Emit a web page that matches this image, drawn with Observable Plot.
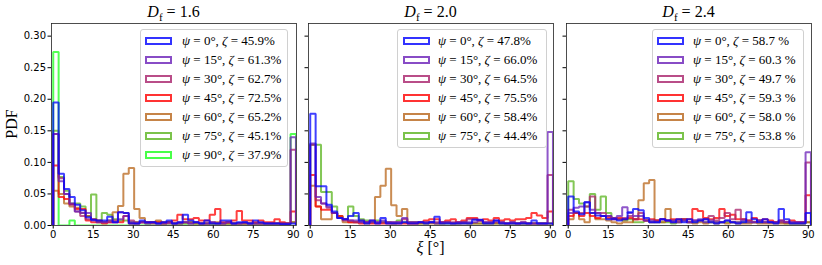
<!DOCTYPE html>
<html><head><meta charset="utf-8">
<script src="https://cdn.jsdelivr.net/npm/d3@7"></script>
<script src="https://cdn.jsdelivr.net/npm/@observablehq/plot@0.6"></script>
<style>
body{margin:0;background:#fff}
#wrap{position:relative;width:822px;height:265px;overflow:hidden;background:#fff}
#wrap svg{position:absolute;top:0}
.t{position:absolute;font-family:"Liberation Serif",serif;color:#000;white-space:nowrap;line-height:1}
.leg{position:absolute;border:1px solid #d0d0d0;border-radius:3px;background:rgba(255,255,255,0.8);box-sizing:border-box}
.ent{position:absolute;height:12px;font-family:"Liberation Serif",serif;font-size:13px;line-height:12px;white-space:nowrap}
.sw{position:absolute;width:27px;height:8px;box-sizing:border-box;border:2px solid;opacity:0.8;top:2px}
.lab{position:absolute;top:0}
</style></head>
<body><div id="wrap"></div>
<script>
const psiValues = [0, 15, 30, 45, 60, 75, 90];
const seriesColors = ["#0000ff", "#6a1fb8", "#a8206a", "#ff0000", "#b8651a", "#5ab41e", "#1aff1a"];
const dfTitles = ["1.6", "2.0", "2.4"];
const zetaDf16 = ["45.9%", "61.3%", "62.7%", "72.5%", "65.2%", "45.1%", "37.9%"];
const zetaDf20 = ["47.8%", "66.0%", "64.5%", "75.5%", "58.4%", "44.4%"];
const zetaDf24 = ["58.7 %", "60.3 %", "49.7 %", "59.3 %", "58.0 %", "53.8 %"];
const xTicks = [0, 15, 30, 45, 60, 75, 90];
const yTicks = [0, 0.05, 0.10, 0.15, 0.20, 0.25, 0.30];
const binCount = 45, binMax = 91;

// PDF values per bin (45 bins over 0..91 deg)
const df16 = [
 [0.195,0.082,0.058,0.045,0.033,0.024,0.013,0.009,0.008,0.008,0.014,0.005,0.021,0.02,0.003,0.003,0.008,0.005,0.005,0.003,0.005,0.008,0.003,0.005,0.017,0.008,0.005,0.003,0.008,0.003,0.003,0.008,0.008,0.003,0.005,0.005,0.003,0.008,0.005,0.003,0.003,0.003,0.002,0.002,0.003],
 [0.145,0.07,0.05,0.035,0.022,0.02,0.02,0.008,0.005,0.005,0.008,0.005,0.01,0.015,0.005,0.003,0.005,0.003,0.005,0.003,0.003,0.005,0.003,0.003,0.005,0.003,0.005,0.003,0.003,0.005,0.003,0.003,0.005,0.003,0.003,0.005,0.003,0.003,0.003,0.003,0.003,0.003,0.003,0.003,0.14],
 [0.145,0.075,0.05,0.033,0.022,0.015,0.01,0.01,0.008,0.005,0.005,0.008,0.021,0.02,0.008,0.005,0.005,0.005,0.003,0.003,0.005,0.003,0.003,0.005,0.005,0.003,0.005,0.003,0.003,0.005,0.003,0.003,0.005,0.003,0.003,0.003,0.003,0.003,0.003,0.003,0.003,0.003,0.003,0.003,0.12],
 [0.095,0.045,0.042,0.034,0.026,0.026,0.008,0.005,0.005,0.003,0.005,0.005,0.005,0.015,0.003,0.003,0.005,0.005,0.005,0.005,0.003,0.005,0.008,0.017,0.01,0.01,0.012,0.008,0.008,0.017,0.026,0.005,0.005,0.008,0.023,0.008,0.008,0.005,0.008,0.005,0.005,0.01,0.005,0.003,0.022],
 [0.055,0.05,0.035,0.03,0.028,0.02,0.015,0.01,0.008,0.005,0.008,0.021,0.031,0.082,0.091,0.026,0.012,0.005,0.005,0.008,0.005,0.005,0.003,0.003,0.005,0.005,0.003,0.003,0.003,0.003,0.005,0.003,0.003,0.003,0.003,0.003,0.003,0.003,0.003,0.003,0.003,0.003,0.003,0.003,0.005],
 [0.15,0.077,0.055,0.035,0.035,0.03,0.015,0.049,0.005,0.02,0.017,0.01,0.008,0.008,0.005,0.005,0.005,0.003,0.005,0.005,0.003,0.005,0.003,0.003,0.003,0.005,0.003,0.003,0.003,0.003,0.003,0.003,0.003,0.003,0.003,0.003,0.003,0.003,0.003,0.003,0.003,0.003,0.003,0.003,0.005],
 [0.275,0,0,0.008,0,0,0,0,0,0,0,0,0,0,0,0,0,0,0,0,0,0,0,0,0,0,0,0,0,0,0,0,0,0,0,0,0,0,0,0,0,0,0,0,0.145]
];
const df20 = [
 [0.177,0.062,0.062,0.033,0.022,0.012,0.01,0.015,0.02,0.008,0.003,0.008,0.003,0.012,0.003,0.003,0.003,0.005,0.003,0.003,0.005,0.003,0.005,0.014,0.003,0.003,0.003,0.003,0.003,0.003,0.009,0.009,0.003,0.003,0.008,0.003,0.003,0.003,0.003,0.003,0.003,0.008,0.003,0.003,0.003],
 [0.13,0.045,0.035,0.03,0.02,0.012,0.01,0.008,0.008,0.005,0.005,0.005,0.005,0.008,0.005,0.005,0.005,0.012,0.005,0.005,0.005,0.005,0.005,0.003,0.005,0.005,0.003,0.005,0.005,0.005,0.005,0.008,0.005,0.005,0.008,0.005,0.003,0.005,0.003,0.005,0.003,0.003,0.003,0.003,0.148],
 [0.128,0.04,0.035,0.028,0.02,0.012,0.008,0.008,0.005,0.005,0.005,0.008,0.005,0.005,0.005,0.005,0.005,0.01,0.005,0.005,0.005,0.005,0.005,0.005,0.005,0.005,0.005,0.005,0.005,0.01,0.01,0.008,0.005,0.005,0.005,0.005,0.003,0.005,0.003,0.005,0.003,0.003,0.003,0.003,0.08],
 [0.08,0.03,0.025,0.025,0.02,0.015,0.01,0.005,0.005,0.003,0.005,0.003,0.003,0.003,0.003,0.003,0.003,0.003,0.003,0.003,0.005,0.008,0.01,0.01,0.005,0.008,0.01,0.005,0.008,0.012,0.012,0.008,0.01,0.008,0.012,0.008,0.01,0.008,0.01,0.01,0.012,0.02,0.016,0.012,0.022],
 [0.063,0.03,0.01,0.01,0.02,0.012,0.005,0.005,0.005,0.008,0.003,0.005,0.045,0.063,0.09,0.032,0.015,0.026,0.003,0.003,0.003,0.003,0.003,0.003,0.003,0.005,0.003,0.003,0.003,0.003,0.003,0.003,0.003,0.003,0.003,0.003,0.003,0.003,0.003,0.003,0.003,0.003,0.003,0.003,0.003],
 [0.128,0.128,0.053,0.053,0.03,0.015,0.01,0.03,0.015,0.01,0.008,0.005,0.008,0.005,0.005,0.003,0.008,0.005,0.005,0.005,0.003,0.003,0.005,0.003,0.003,0.003,0.003,0.003,0.005,0.003,0.003,0.003,0.003,0.003,0.003,0.003,0.003,0.003,0.003,0.003,0.003,0.003,0.003,0.003,0.003]
];
const df24 = [
 [0.046,0.022,0.018,0.037,0.02,0.016,0.015,0.01,0.01,0.008,0.01,0.021,0.026,0.024,0.012,0.005,0.005,0.01,0.008,0.005,0.01,0.005,0.01,0.005,0.008,0.01,0.005,0.003,0.005,0.008,0.005,0.003,0.005,0.021,0.01,0.005,0.01,0.005,0.003,0.026,0.01,0.003,0.003,0.003,0.02],
 [0.02,0.028,0.03,0.037,0.025,0.02,0.015,0.015,0.012,0.015,0.029,0.02,0.015,0.015,0.008,0.008,0.005,0.01,0.008,0.008,0.005,0.008,0.005,0.008,0.01,0.005,0.008,0.005,0.005,0.008,0.005,0.005,0.008,0.005,0.005,0.008,0.005,0.005,0.005,0.008,0.005,0.005,0.005,0.005,0.116],
 [0.025,0.02,0.02,0.03,0.046,0.02,0.02,0.015,0.012,0.01,0.012,0.015,0.01,0.02,0.008,0.005,0.008,0.01,0.008,0.005,0.008,0.01,0.005,0.008,0.008,0.01,0.015,0.008,0.012,0.02,0.01,0.025,0.01,0.008,0.005,0.008,0.005,0.005,0.005,0.005,0.005,0.005,0.005,0.005,0.1],
 [0.015,0.02,0.015,0.02,0.015,0.012,0.015,0.012,0.01,0.012,0.01,0.012,0.01,0.01,0.008,0.01,0.008,0.01,0.008,0.01,0.01,0.01,0.01,0.026,0.023,0.012,0.01,0.012,0.026,0.015,0.017,0.01,0.01,0.008,0.012,0.008,0.01,0.008,0.005,0.008,0.005,0.008,0.005,0.005,0.048],
 [0.01,0.02,0.01,0.005,0.02,0.01,0.01,0.008,0.005,0.003,0.005,0.005,0.01,0.04,0.067,0.072,0.008,0.005,0.026,0.008,0.005,0.008,0.005,0.003,0.005,0.003,0.005,0.003,0.005,0.003,0.005,0.003,0.003,0.003,0.005,0.003,0.003,0.003,0.003,0.003,0.003,0.003,0.003,0.003,0.005],
 [0.07,0.042,0.035,0.03,0.05,0.025,0.046,0.02,0.012,0.01,0.008,0.01,0.005,0.005,0.008,0.005,0.005,0.005,0.005,0.003,0.005,0.01,0.005,0.005,0.008,0.005,0.005,0.005,0.005,0.005,0.005,0.005,0.005,0.005,0.005,0.005,0.005,0.005,0.005,0.005,0.003,0.003,0.003,0.003,0.005]
];

const edges = d3.range(binCount + 1).map(i => i * binMax / binCount);
function stepPoints(values, s) {
  const pts = [{x: edges[0], y: 0, s}];
  values.forEach((v, i) => { pts.push({x: edges[i], y: v, s}); pts.push({x: edges[i + 1], y: v, s}); });
  pts.push({x: edges[values.length], y: 0, s});
  return pts;
}

const wrap = document.getElementById("wrap");
const panels = [
  {data: df16, zeta: zetaDf16, plotLeft: 51, ml: 51, mr: 6, leg: {x: 140, w: 148}, sw: 145, tx: 182},
  {data: df20, zeta: zetaDf20, plotLeft: 308, ml: 8, mr: 6, leg: {x: 397, w: 150}, sw: 403, tx: 438},
  {data: df24, zeta: zetaDf24, plotLeft: 566, ml: 8, mr: 10, leg: {x: 652, w: 152}, sw: 657, tx: 693}
];
const plotW = 245;

panels.forEach((p, k) => {
  const lines = [];
  for (let s = p.data.length - 1; s >= 0; s--) lines.push(...stepPoints(p.data[s], s));
  const svg = Plot.plot({
    width: p.ml + plotW + p.mr, height: 265,
    marginLeft: p.ml, marginRight: p.mr, marginTop: 23, marginBottom: 40,
    style: {background: "transparent", fontFamily: "DejaVu Sans", fontSize: "10px", color: "#000"},
    x: {domain: [-0.65, 91.2], ticks: xTicks, tickFormat: d => String(d), tickSize: 3.5, tickPadding: 2, label: null},
    y: {domain: [0, 0.32], ticks: yTicks, tickFormat: k === 0 ? d3.format(".2f") : () => "", tickSize: 3.5, tickPadding: 2, label: null},
    marks: [
      Plot.line(lines, {x: "x", y: "y", z: "s", stroke: d => seriesColors[d.s], strokeWidth: 2, strokeOpacity: 0.75, strokeLinejoin: "miter", curve: "linear", clip: true}),
      Plot.frame({stroke: "#222", strokeWidth: 0.8})
    ]
  });
  svg.style.left = (p.plotLeft - p.ml) + "px";
  wrap.appendChild(svg);

  // title
  const t = document.createElement("div");
  t.className = "t";
  t.style.fontSize = "16px";
  t.innerHTML = `<i>D</i><sub style="font-size:11px">f</sub> = ${dfTitles[k]}`;
  t.style.left = (p.plotLeft + plotW / 2) + "px";
  t.style.top = "4px";
  t.style.transform = "translateX(-50%)";
  wrap.appendChild(t);

  // legend
  const n = p.data.length;
  const leg = document.createElement("div");
  leg.className = "leg";
  leg.style.left = p.leg.x + "px";
  leg.style.top = "29px";
  leg.style.width = p.leg.w + "px";
  leg.style.height = (n * 19.05 + 5) + "px";
  wrap.appendChild(leg);
  for (let i = 0; i < n; i++) {
    const e = document.createElement("div");
    e.className = "ent";
    e.style.left = p.sw + "px";
    e.style.top = (40.7 + i * 19.05 - 6) + "px";
    e.innerHTML = `<span class="sw" style="left:0;border-color:${seriesColors[i]}"></span><span class="lab" style="left:${p.tx - p.sw}px"><i>ψ</i> = ${psiValues[i]}°, <i>ζ</i> = ${p.zeta[i]}</span>`;
    wrap.appendChild(e);
  }
});

const yl = document.createElement("div");
yl.className = "t"; yl.style.fontSize = "16px";
yl.textContent = "PDF";
yl.style.left = "12px"; yl.style.top = "124px";
yl.style.transform = "translate(-50%,-50%) rotate(-90deg)";
wrap.appendChild(yl);

const xl = document.createElement("div");
xl.className = "t"; xl.style.fontSize = "16px";
xl.innerHTML = "<i>ξ</i> [°]";
xl.style.left = (308 + plotW / 2) + "px"; xl.style.top = "240px";
xl.style.transform = "translateX(-50%)";
wrap.appendChild(xl);
</script></body></html>
